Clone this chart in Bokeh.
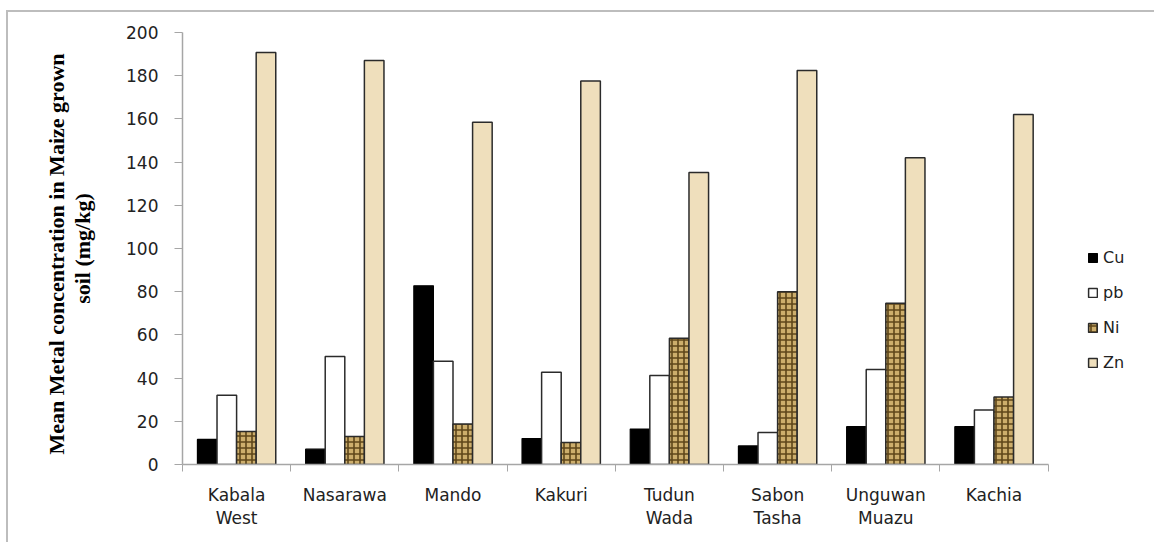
from bokeh.plotting import figure
from bokeh.models import (ColumnDataSource, Range1d, FixedTicker, Legend, LegendItem)
from bokeh.embed import file_html
from bokeh.resources import INLINE

# Sampling sites and mean metal concentrations (mg/kg) in maize-grown soil
sites = ["Kabala\nWest", "Nasarawa", "Mando", "Kakuri", "Tudun\nWada",
         "Sabon\nTasha", "Unguwan\nMuazu", "Kachia"]
cu = [11.6, 7.1, 82.7, 12.0, 16.4, 8.6, 17.5, 17.5]
pb = [32.1, 50.0, 47.8, 42.7, 41.2, 14.8, 44.0, 25.2]
ni = [15.3, 13.0, 18.7, 10.2, 58.5, 80.0, 74.7, 31.2]
zn = [190.7, 187.0, 158.5, 177.5, 135.2, 182.4, 142.0, 162.0]
y_ticks = [0, 20, 40, 60, 80, 100, 120, 140, 160, 180, 200]

n = len(sites)
centers = [i + 0.5 for i in range(n)]
bar_w = 0.181

# page geometry (px)
fig_w, fig_h = 1148, 532
border_l, border_r, border_t, border_b = 174, 4, 20, 80
cat_px = 108.2  # pixel width of one site group
frame_w = fig_w - border_l - border_r
x_end = frame_w / cat_px  # room on the right of the sites for the legend

p = figure(width=fig_w, height=fig_h, output_backend="svg", toolbar_location=None,
           x_range=Range1d(0, x_end), y_range=Range1d(0, 200),
           min_border_left=border_l, min_border_right=border_r,
           min_border_top=border_t, min_border_bottom=border_b)
p.styles = {"margin-left": "6px", "margin-top": "10px",
            "border-top": "2px solid #bdbdbd", "border-left": "2px solid #bdbdbd"}
p.outline_line_color = None
p.xgrid.grid_line_color = None
p.ygrid.grid_line_color = None
p.background_fill_color = "white"

edge = "#2b2b2b"
offsets = [-1.5 * bar_w, -0.5 * bar_w, 0.5 * bar_w, 1.5 * bar_w]

r_cu = p.vbar(x=[c + offsets[0] for c in centers], top=cu, width=bar_w,
              fill_color="black", line_color="black", line_width=1.2)
r_pb = p.vbar(x=[c + offsets[1] for c in centers], top=pb, width=bar_w,
              fill_color="white", line_color=edge, line_width=1.5)
r_ni = p.vbar(x=[c + offsets[2] for c in centers], top=ni, width=bar_w,
              fill_color="#cdae6c", line_color=edge, line_width=1.5,
              hatch_pattern="+", hatch_color="#5e4619", hatch_scale=6,
              hatch_weight=1.6)
r_zn = p.vbar(x=[c + offsets[3] for c in centers], top=zn, width=bar_w,
              fill_color="#efdfbc", line_color=edge, line_width=1.5)

# x axis: boundary ticks between sites, labels at site centres
xa = p.xaxis[0]
xa.bounds = (0, n)
xa.ticker = FixedTicker(ticks=centers, minor_ticks=list(range(n + 1)))
xa.major_label_overrides = {c: s for c, s in zip(centers, sites)}
xa.major_tick_line_color = None
xa.major_tick_out = 0
xa.major_tick_in = 0
xa.minor_tick_line_color = "#a6a6a6"
xa.minor_tick_out = 7
xa.minor_tick_in = 0
xa.axis_line_color = "#a6a6a6"
xa.axis_line_width = 1.5
xa.major_label_text_font = "DejaVu Sans"
xa.major_label_text_font_size = "17px"
xa.major_label_text_color = "#222222"
xa.major_label_standoff = 13
xa.major_label_text_line_height = 1.15

ya = p.yaxis[0]
ya.bounds = (0, 200)
ya.ticker = FixedTicker(ticks=y_ticks)
ya.minor_tick_line_color = None
ya.major_tick_line_color = "#a6a6a6"
ya.major_tick_out = 8
ya.major_tick_in = 0
ya.axis_line_color = "#a6a6a6"
ya.axis_line_width = 1.5
ya.major_label_text_font = "DejaVu Sans"
ya.major_label_text_font_size = "17px"
ya.major_label_text_color = "#222222"
ya.major_label_standoff = 16
ya.axis_label = "Mean Metal  concentration in Maize  grown\nsoil (mg/kg)"
ya.axis_label_text_font = "Liberation Serif"
ya.axis_label_text_font_style = "bold"
ya.axis_label_text_font_size = "22px"
ya.axis_label_text_color = "black"
ya.axis_label_text_line_height = 1.05
ya.axis_label_standoff = 28

legend = Legend(items=[LegendItem(label="Cu", renderers=[r_cu]),
                       LegendItem(label="pb", renderers=[r_pb]),
                       LegendItem(label="Ni", renderers=[r_ni]),
                       LegendItem(label="Zn", renderers=[r_zn])],
                location=(905, 92), orientation="vertical",
                glyph_width=11, glyph_height=11, label_height=20,
                spacing=15, padding=0, margin=0, label_standoff=5,
                label_text_font="DejaVu Sans", label_text_font_size="16px",
                label_text_color="#222222",
                border_line_color=None, background_fill_alpha=0)
p.add_layout(legend, "center")

open("out.html", "w").write(file_html(p, INLINE))
